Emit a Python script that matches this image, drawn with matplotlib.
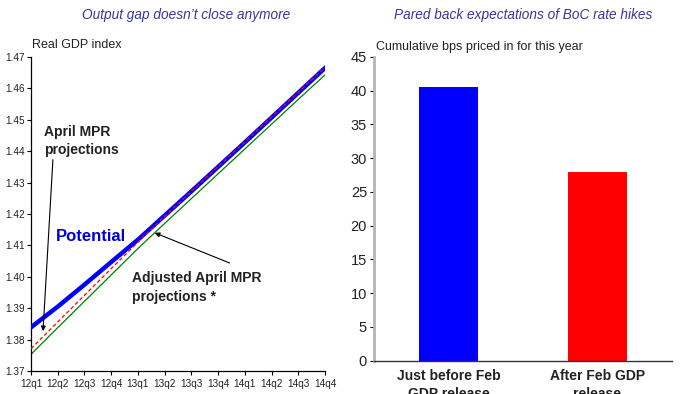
#!/usr/bin/env python3
"""Two-panel chart: real GDP index vs potential, and BoC hikes priced in."""

import matplotlib
matplotlib.use("Agg")
import matplotlib.pyplot as plt

# ---------------------------------------------------------------------------
# Data
# ---------------------------------------------------------------------------

quarters = ["12q1", "12q2", "12q3", "12q4", "13q1", "13q2",
            "13q3", "13q4", "14q1", "14q2", "14q3", "14q4"]
potential = [1.3839, 1.3905, 1.3975, 1.4047, 1.4118, 1.4195,
             1.4272, 1.4350, 1.4428, 1.4507, 1.4586, 1.4665]
april_mpr = [1.3771, 1.3856, 1.3941, 1.4026, 1.4110, 1.4192,
             1.4272, 1.4351, 1.4430, 1.4509, 1.4588, 1.4667]
adjusted_mpr = [1.3753, 1.3838, 1.3922, 1.4006, 1.4090, 1.4170,
                1.4249, 1.4328, 1.4407, 1.4486, 1.4565, 1.4643]
gdp_yticks = [1.37, 1.38, 1.39, 1.40, 1.41, 1.42, 1.43, 1.44, 1.45, 1.46, 1.47]

bar_labels = ["Just before Feb\nGDP release", "After Feb GDP\nrelease"]
bar_values = [40.5, 28.0]
bar_yticks = [0, 5, 10, 15, 20, 25, 30, 35, 40, 45]

TITLE_COLOR = "#36369a"

plt.rcParams["font.family"] = ["Liberation Sans", "DejaVu Sans"]

fig = plt.figure(figsize=(6.82, 3.94), dpi=100)

# ---------------------------------------------------------------------------
# Left panel
# ---------------------------------------------------------------------------
ax = fig.add_axes([31 / 682, 1 - 371 / 394, 294 / 682, 314 / 394])
x = list(range(len(quarters)))
ax.plot(x, adjusted_mpr, color="#008000", lw=0.9, zorder=2)
ax.plot(x, potential, color="#0000ff", lw=3.2, zorder=3)
ax.plot(x, april_mpr, color="#ff0000", lw=0.9, ls=(0, (3, 2)), zorder=4)

ax.set_xlim(0, len(quarters) - 1)
ax.set_ylim(1.37, 1.47)
ax.set_xticks(x)
ax.set_xticklabels(quarters, fontsize=7.2, color="#222222")
ax.set_yticks(gdp_yticks)
ax.set_yticklabels([f"{v:.2f}" for v in gdp_yticks], fontsize=7.2,
                   color="#222222")
ax.tick_params(axis="both", direction="out", length=3, width=0.8, pad=1.5)
ax.tick_params(axis="x", pad=3)
for s in ("top", "right"):
    ax.spines[s].set_visible(False)
ax.spines["left"].set_linewidth(0.9)
ax.spines["bottom"].set_linewidth(0.9)

ax.text(0.005, 1.02, "Real GDP index", transform=ax.transAxes,
        fontsize=9, ha="left", va="bottom", color="#222222")

ax.annotate("April MPR\nprojections", xy=(0.45, 1.3827), xytext=(0.49, 1.4485),
            fontsize=10, fontweight="bold", ha="left", va="top",
            linespacing=1.4, color="#222222",
            arrowprops=dict(arrowstyle="-|>", lw=0.8, color="black",
                            mutation_scale=7, shrinkA=0, shrinkB=0,
                            relpos=(0.12, 0.0)))
ax.text(0.93, 1.4128, "Potential", fontsize=12, fontweight="bold",
        color="#0000dd", ha="left", va="center")
ax.annotate("", xy=(4.63, 1.4140), xytext=(7.43, 1.4044),
            arrowprops=dict(arrowstyle="-|>", lw=0.8, color="black",
                            mutation_scale=7, shrinkA=0, shrinkB=0))
ax.text(3.77, 1.4018, "Adjusted April MPR\nprojections *", fontsize=10,
        fontweight="bold", ha="left", va="top", linespacing=1.4,
        color="#222222")

fig.text(186 / 682, 1 - 15 / 394, "Output gap doesn\u2019t close anymore",
         fontsize=9.8, style="italic", color=TITLE_COLOR,
         ha="center", va="center")

# ---------------------------------------------------------------------------
# Right panel
# ---------------------------------------------------------------------------
bx = fig.add_axes([374 / 682, 1 - 360.7 / 394, 298 / 682, 303.7 / 394])
bx.bar([0, 1], bar_values, width=0.4, color=["#0000ff", "#ff0000"], zorder=2)
bx.set_xlim(-0.5, 1.5)
bx.set_ylim(0, 45)
bx.set_yticks(bar_yticks)
bx.set_yticklabels([str(v) for v in bar_yticks], fontsize=10.5,
                   color="#222222")
bx.set_xticks([0, 1])
bx.set_xticklabels(bar_labels, fontsize=10, fontweight="bold",
                   color="#222222", linespacing=1.35)
bx.tick_params(axis="x", length=0, pad=6)
bx.tick_params(axis="y", direction="out", length=3, width=0.8, pad=2)
for s in ("top", "right"):
    bx.spines[s].set_visible(False)
bx.spines["left"].set_color("#b4b4b4")
bx.spines["left"].set_linewidth(2.0)
bx.spines["bottom"].set_color("#333333")
bx.spines["bottom"].set_linewidth(1.0)

bx.text(0.007, 1.012, "Cumulative bps priced in for this year",
        transform=bx.transAxes, fontsize=9, ha="left", va="bottom",
        color="#222222")

fig.text(523 / 682, 1 - 15 / 394, "Pared back expectations of BoC rate hikes",
         fontsize=9.8, style="italic", color=TITLE_COLOR,
         ha="center", va="center")

fig.savefig("out.png", dpi=100)
